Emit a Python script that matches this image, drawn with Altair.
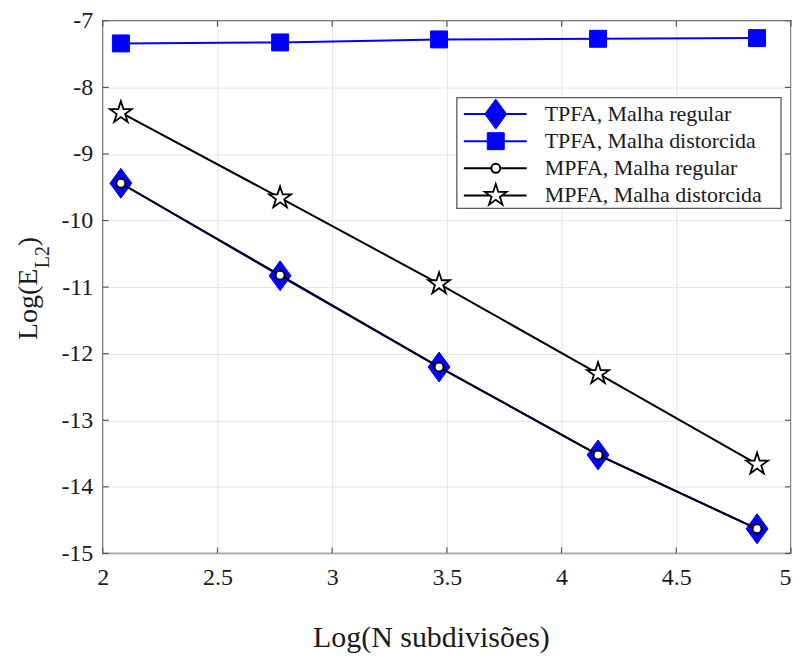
import altair as alt
import pandas as pd

# ---- data ----
log_n = [2.079, 2.773, 3.466, 4.159, 4.852]
tpfa_regular = [-9.44, -10.83, -12.20, -13.52, -14.63]
tpfa_distorted = [-7.34, -7.325, -7.28, -7.27, -7.26]
mpfa_regular = [-9.44, -10.82, -12.20, -13.52, -14.63]
mpfa_distorted = [-8.38, -9.66, -10.95, -12.30, -13.66]

series_names = [
    "TPFA, Malha regular",
    "TPFA, Malha distorcida",
    "MPFA, Malha regular",
    "MPFA, Malha distorcida",
]
series_values = [tpfa_regular, tpfa_distorted, mpfa_regular, mpfa_distorted]

x_ticks = [2, 2.5, 3, 3.5, 4, 4.5, 5]
y_ticks = [-15, -14, -13, -12, -11, -10, -9, -8, -7]
x_title = "Log(N subdivisões)"
y_title_main = "Log(E"
y_title_sub = "L2"
y_title_end = ")"

# ---- styling ----
FONT = "Liberation Serif"
BLUE = "#0000ff"
TXT = "#1a1a1a"
FRAME = "#5a5a5a"
DIAMOND = "M0,-1L0.73,0L0,1L-0.73,0Z"
STAR = ("M0,-1L0.225,-0.309L0.951,-0.309L0.363,0.118L0.588,0.809L0,0.382"
        "L-0.588,0.809L-0.363,0.118L-0.951,-0.309L-0.225,-0.309Z")

styles = [
    dict(line=BLUE, shape=DIAMOND, size=900, fill=BLUE, stroke=BLUE, sw=1),
    dict(line=BLUE, shape="square", size=289, fill=BLUE, stroke=BLUE, sw=1),
    dict(line="black", shape="circle", size=81, fill="white", stroke="black", sw=2),
    dict(line="black", shape=STAR, size=529, fill="white", stroke="black", sw=1.8),
]

W, H = 690, 534

x_scale = alt.Scale(domain=[2, 5], nice=False, zero=False)
y_scale = alt.Scale(domain=[-15, -7], nice=False, zero=False)

x_axis = alt.Axis(
    values=x_ticks, title=x_title, labelFlush=False,
    labelExpr="toString(datum.value)",
    labelAlign={"condition": {"test": "datum.value >= 5", "value": "right"}, "value": "center"},
    labelFont=FONT, labelFontSize=24, labelColor=TXT, labelPadding=12,
    titleX=329, titleY=93, titleBaseline="alphabetic", titleAlign="center",
)
y_axis = alt.Axis(
    values=y_ticks, title=None, labelFlush=False,
    labelExpr="toString(datum.value)",
    labelFont=FONT, labelFontSize=24, labelColor=TXT, labelPadding=10,
)


def X(field="x"):
    return alt.X(f"{field}:Q", scale=x_scale, axis=x_axis)


def Y(field="y"):
    return alt.Y(f"{field}:Q", scale=y_scale, axis=y_axis)


layers = []

# data series (line then markers, in drawing order)
for name, vals, st in zip(series_names, series_values, styles):
    df = pd.DataFrame({"x": log_n, "y": vals, "s": name})
    layers.append(alt.Chart(df).mark_line(color=st["line"], strokeWidth=2).encode(x=X(), y=Y()))
    layers.append(alt.Chart(df).mark_point(
        shape=st["shape"], size=st["size"], filled=True, fill=st["fill"], stroke=st["stroke"],
        strokeWidth=st["sw"], opacity=1, fillOpacity=1, strokeOpacity=1,
    ).encode(x=X(), y=Y()))

# inward ticks on all four sides
xt = pd.DataFrame({"x": x_ticks})
yt = pd.DataFrame({"y": y_ticks})
for y0, y1 in [(H, H - 6), (0, 6)]:
    layers.append(alt.Chart(xt).mark_rule(color=FRAME, strokeWidth=1.2).encode(
        x=X(), y=alt.value(y0), y2=alt.value(y1)))
for x0, x1 in [(0, 6), (W, W - 6)]:
    layers.append(alt.Chart(yt).mark_rule(color=FRAME, strokeWidth=1.2).encode(
        y=Y(), x=alt.value(x0), x2=alt.value(x1)))

# legend box
box = pd.DataFrame({"s": ["box"]})
layers.append(alt.Chart(box).mark_rect(fill="white", stroke=FRAME, strokeWidth=1.3).encode(
    x=alt.value(355), x2=alt.value(680), y=alt.value(77), y2=alt.value(188)))
for i, (name, st) in enumerate(zip(series_names, styles)):
    ry = 93.5 + 27.2 * i
    d = pd.DataFrame({"s": [name]})
    layers.append(alt.Chart(d).mark_rule(color=st["line"], strokeWidth=2).encode(
        x=alt.value(362), x2=alt.value(425), y=alt.value(ry)))
    layers.append(alt.Chart(d).mark_point(
        shape=st["shape"], size=st["size"], filled=True, fill=st["fill"], stroke=st["stroke"],
        strokeWidth=st["sw"], opacity=1, fillOpacity=1, strokeOpacity=1,
    ).encode(x=alt.value(394), y=alt.value(ry)))
    layers.append(alt.Chart(d).mark_text(
        align="left", baseline="middle", font=FONT, fontSize=22, color=TXT,
    ).encode(x=alt.value(443), y=alt.value(ry), text="s:N"))

# y-axis title with subscript
t = pd.DataFrame({"a": [y_title_main], "b": [y_title_sub], "c": [y_title_end]})
layers.append(alt.Chart(t).mark_text(
    angle=270, align="left", baseline="alphabetic", font=FONT, fontSize=28, color=TXT,
).encode(x=alt.value(-66), y=alt.value(320), text="a:N"))
layers.append(alt.Chart(t).mark_text(
    angle=270, align="left", baseline="alphabetic", font=FONT, fontSize=20, color=TXT,
).encode(x=alt.value(-54), y=alt.value(248), text="b:N"))
layers.append(alt.Chart(t).mark_text(
    angle=270, align="left", baseline="alphabetic", font=FONT, fontSize=28, color=TXT,
).encode(x=alt.value(-66), y=alt.value(226), text="c:N"))

chart = alt.layer(*layers).properties(
    width=W, height=H,
    autosize=alt.AutoSizeParams(type="none"),
    padding={"left": 95, "top": 12, "right": 1, "bottom": 103},
).configure(
    font=FONT
).configure_view(
    stroke=FRAME, strokeWidth=1.5
).configure_axis(
    domain=False, ticks=False, tickSize=0, grid=True, gridColor="#e4e4e4", gridWidth=1,
    labelFont=FONT, labelFontSize=24, labelColor=TXT,
    titleFont=FONT, titleFontSize=30, titleFontWeight="normal", titleColor=TXT,
)

chart.save("out.html", embed_options={"renderer": "svg", "actions": False})
